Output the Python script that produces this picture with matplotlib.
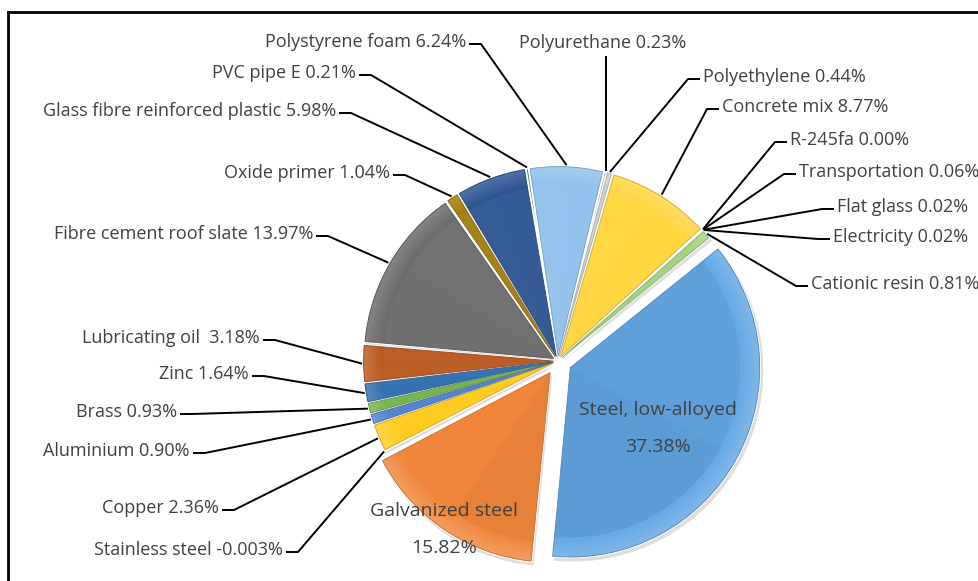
import numpy as np
import matplotlib.pyplot as plt
from matplotlib.patches import Wedge
from matplotlib import colors as mcolors

# slices in drawing order (clockwise, starting with the big steel slice)
names = ["Steel, low-alloyed", "Galvanized steel", "Stainless steel", "Copper",
         "Aluminium", "Brass", "Zinc", "Lubricating oil ", "Fibre cement roof slate",
         "Oxide primer", "Glass fibre reinforced plastic", "PVC pipe E",
         "Polystyrene foam", "Polyurethane", "Polyethylene", "Concrete mix",
         "R-245fa", "Transportation", "Flat glass", "Electricity", "Cationic resin"]
shares = [37.38, 15.82, -0.003, 2.36, 0.90, 0.93, 1.64, 3.18, 13.97,
          1.04, 5.98, 0.21, 6.24, 0.23, 0.44, 8.77,
          0.00, 0.06, 0.02, 0.02, 0.81]
slice_colors = ["#63A6E3", "#F0853A", "#A5A5A5", "#FFCB1F", "#4F82D0", "#74B34C",
                "#2F6EAF", "#B8561C", "#676767", "#A27A05", "#27508F", "#43682B",
                "#8EC1EC", "#BDBDBD", "#D0D0D0", "#FFD53D",
                "#698ED0", "#8CC168", "#5B9BD5", "#ED7D31", "#A6D283"]
# offsets in pixels
explode = [14, 14, 5, 5, 5, 5, 5, 5, 5,
           5, 5, 5, 5, 5, 5, 5,
           5, 5, 5, 5, 5]

# label positions in pixels (x, y, alignment); None = label inside slice
label_pos = [None, None, (283, 550, "right"), (219, 508, "right"),
             (190, 451, "right"), (177, 412, "right"), (249, 374, "right"),
             (260, 338, "right"), (313, 234, "right"), (390, 173, "right"),
             (336, 111, "right"), (356, 73, "right"), (466, 42, "right"),
             (603, 43, "center"), (703, 77, "left"), (722, 107, "left"),
             (790, 140, "left"), (799, 172, "left"), (837, 207, "left"),
             (833, 237, "left"), (811, 284, "left")]

W, H = 979, 581


def py(y):
    return H - y


def pct(v):
    if v != 0 and abs(v) < 0.01:
        return f"{v:.3f}%"
    return f"{v:.2f}%"


def shade(c, f):
    r, g, b = mcolors.to_rgb(c)
    if f < 1:
        return (r * f, g * f, b * f)
    t = f - 1
    return (r + (1 - r) * t, g + (1 - g) * t, b + (1 - b) * t)


plt.rcParams['font.family'] = ['Open Sans', 'DejaVu Sans']
fig = plt.figure(figsize=(W / 100, H / 100), dpi=100)
ax = fig.add_axes([0, 0, 1, 1])

cx, cy, R = 558, py(361), 190
sizes = [max(v, 0) for v in shares]
wedges, _ = ax.pie(sizes, colors=slice_colors, explode=explode, startangle=39,
                   counterclock=False, center=(cx, cy), radius=R,
                   wedgeprops=dict(linewidth=1.2, edgecolor="white"))
ax.set_xlim(0, W)
ax.set_ylim(0, H)
ax.axis('off')

light = np.array([-0.6, 0.8])
for w, c in zip(wedges, slice_colors):
    w.set_zorder(2)
    t1, t2 = w.theta1, w.theta2
    span = t2 - t1
    if span < 1.0:
        continue
    tm = (t1 + t2) / 2
    ins = 0.3
    # soft shadow
    ax.add_patch(Wedge((w.center[0] + 2, w.center[1] - 3), w.r + 1, t1, t2,
                       facecolor="black", alpha=0.13, edgecolor="none", zorder=1))
    # two facets lit from top-left
    for a, b in [(t1 + ins, tm), (tm, t2 - ins)]:
        m = np.deg2rad((a + b) / 2)
        f = 1 + 0.07 * float(np.dot([np.cos(m), np.sin(m)], light))
        ax.add_patch(Wedge(w.center, w.r * 0.9, a, b,
                           facecolor=shade(c, f), edgecolor="none", zorder=3))
    # rim highlight gradient
    steps = 6
    for k in range(steps):
        r_out = w.r - 0.6 - k * w.r * 0.1 / steps
        ax.add_patch(Wedge(w.center, r_out, t1 + ins, t2 - ins, width=w.r * 0.1 / steps + 0.5,
                           facecolor=shade(c, 1.18 - 0.18 * k / steps),
                           edgecolor="none", zorder=3))
    # thin darker outline
    ax.add_patch(Wedge(w.center, w.r - 0.6, t1 + 0.2, t2 - 0.2, fill=False,
                       edgecolor=shade(c, 0.8), lw=0.6, zorder=3.5))

txt_color = "#404040"
for i, (w, name, v) in enumerate(zip(wedges, names, shares)):
    mid = np.deg2rad((w.theta1 + w.theta2) / 2)
    ex = w.center[0] + (w.r + 1) * np.cos(mid)
    ey = w.center[1] + (w.r + 1) * np.sin(mid)
    pos = label_pos[i]
    if pos is None:
        continue
    x, y, ha = pos
    ax.text(x, py(y), f"{name} {pct(v)}", ha=ha, va="center", fontsize=13,
            color=txt_color, zorder=5)
    if ha == "center":
        xs = [ex, ex]
        ys = [py(y + 13), ey]
    elif ha == "left":
        xs = [x - 3, x - 15, ex]
        ys = [py(y + 2), py(y + 2), ey]
    else:
        xs = [x + 3, x + 15, ex]
        ys = [py(y + 2), py(y + 2), ey]
    ax.plot(xs, ys, color="black", lw=1.4, zorder=4, solid_capstyle="butt")

# labels inside the two big slices
ax.text(658, py(410), names[0], ha="center", va="center", fontsize=14, color=txt_color, zorder=5)
ax.text(658, py(447), pct(shares[0]), ha="center", va="center", fontsize=14, color=txt_color, zorder=5)
ax.text(444, py(511), names[1], ha="center", va="center", fontsize=14, color=txt_color, zorder=5)
ax.text(444, py(548), pct(shares[1]), ha="center", va="center", fontsize=14, color=txt_color, zorder=5)

# chart frame (only top and left edges are visible in the crop)
ax.plot([8, W], [py(12), py(12)], color="black", lw=2, zorder=6)
ax.plot([8, 8], [py(12), 0], color="black", lw=2, zorder=6)

fig.savefig("out.png", dpi=100)
